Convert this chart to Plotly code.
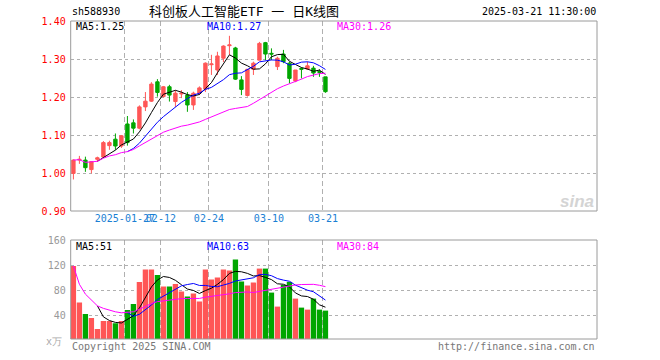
import plotly.graph_objects as go
import pandas as pd

W, H = 660, 360

dates = ["2025-01-14", "2025-01-15", "2025-01-16", "2025-01-17", "2025-01-20", "2025-01-21",
         "2025-01-22", "2025-01-23", "2025-01-24", "2025-01-27", "2025-02-05", "2025-02-06",
         "2025-02-07", "2025-02-10", "2025-02-11", "2025-02-12", "2025-02-13", "2025-02-14",
         "2025-02-17", "2025-02-18", "2025-02-19", "2025-02-20", "2025-02-21", "2025-02-24",
         "2025-02-25", "2025-02-26", "2025-02-27", "2025-02-28", "2025-03-03", "2025-03-04",
         "2025-03-05", "2025-03-06", "2025-03-07", "2025-03-10", "2025-03-11", "2025-03-12",
         "2025-03-13", "2025-03-14", "2025-03-17", "2025-03-18", "2025-03-19", "2025-03-20",
         "2025-03-21"]

opens = [0.999, 1.034, 1.034, 1.009, 1.036, 1.042, 1.072, 1.089, 1.071, 1.129, 1.132, 1.118,
         1.174, 1.189, 1.240, 1.201, 1.227, 1.188, 1.208, 1.205, 1.179, 1.210, 1.221, 1.285,
         1.271, 1.302, 1.335, 1.329, 1.245, 1.204, 1.273, 1.297, 1.343, 1.315, 1.280, 1.313,
         1.289, 1.242, 1.275, 1.274, 1.276, 1.267, 1.253]
highs = [1.036, 1.045, 1.043, 1.031, 1.043, 1.084, 1.085, 1.104, 1.100, 1.150, 1.141, 1.178,
         1.213, 1.239, 1.247, 1.229, 1.232, 1.218, 1.218, 1.213, 1.214, 1.228, 1.291, 1.311,
         1.319, 1.336, 1.361, 1.332, 1.255, 1.273, 1.293, 1.345, 1.345, 1.328, 1.306, 1.324,
         1.293, 1.271, 1.278, 1.293, 1.282, 1.273, 1.253]
lows = [0.983, 1.024, 1.003, 0.999, 1.030, 1.040, 1.061, 1.061, 1.066, 1.072, 1.104, 1.115,
        1.163, 1.187, 1.201, 1.199, 1.188, 1.174, 1.197, 1.161, 1.166, 1.205, 1.213, 1.258,
        1.258, 1.292, 1.311, 1.245, 1.205, 1.201, 1.258, 1.297, 1.297, 1.297, 1.271, 1.289,
        1.236, 1.239, 1.249, 1.271, 1.253, 1.253, 1.211]
closes = [1.034, 1.036, 1.014, 1.030, 1.040, 1.080, 1.080, 1.071, 1.098, 1.080, 1.118, 1.174,
          1.189, 1.234, 1.212, 1.227, 1.205, 1.210, 1.210, 1.179, 1.210, 1.224, 1.289, 1.287,
          1.308, 1.334, 1.337, 1.247, 1.220, 1.273, 1.289, 1.341, 1.313, 1.313, 1.302, 1.293,
          1.249, 1.271, 1.273, 1.282, 1.263, 1.265, 1.214]
volumes = [118.9, 60.2, 42.1, 35.7, 18.1, 30.9, 30.9, 27.2, 30.9, 48.5, 58.1, 93.3, 113.0,
           113.0, 104.5, 85.8, 85.8, 90.1, 77.8, 69.8, 74.6, 61.8, 113.0, 97.0, 100.2, 113.0,
           111.4, 129.0, 93.8, 87.4, 92.2, 114.6, 114.6, 76.2, 53.8, 88.5, 93.3, 66.6, 52.2,
           49.0, 66.6, 49.0, 47.4]

tick_days = ["2025-01-27", "2025-02-12", "2025-02-24", "2025-03-10", "2025-03-21"]
tick_labels = ["2025-01-27", "02-12", "02-24", "03-10", "03-21"]
price_ticks = [0.90, 1.00, 1.10, 1.20, 1.30, 1.40]
vol_ticks = [40, 80, 120, 160]
price_ma_labels = ["MA5:1.25", "MA10:1.27", "MA30:1.26"]
vol_ma_labels = ["MA5:51", "MA10:63", "MA30:84"]

RED = "#ff5656"
GREEN = "#00a600"
MA_COLORS = ["#000000", "#0000ff", "#ff00ff"]
MONO = "DejaVu Sans Mono, Liberation Mono, monospace"
CJK = "DejaVu Sans Mono, Noto Sans CJK SC, sans-serif"

x = list(range(len(dates)))
cs = pd.Series(closes)
vs = pd.Series(volumes)


def mas(s):
    return [s.rolling(5).mean(), s.rolling(10).mean(), s.rolling(30, min_periods=1).mean()]


def PX(px):
    return px / W


def PY(py):
    return 1 - py / H


tickpos = [dates.index(d) - 0.42 for d in tick_days]
vol_colors = [RED if c >= o else GREEN for o, c in zip(opens, closes)]

fig = go.Figure()
fig.add_trace(go.Candlestick(
    x=x, open=opens, high=highs, low=lows, close=closes,
    increasing=dict(line=dict(color=RED, width=1), fillcolor=RED),
    decreasing=dict(line=dict(color=GREEN, width=1), fillcolor=GREEN),
    whiskerwidth=0, xaxis="x", yaxis="y", showlegend=False, hoverinfo="skip"))
for m, c in zip(mas(cs), MA_COLORS):
    fig.add_trace(go.Scatter(x=x, y=m, mode="lines", line=dict(color=c, width=1),
                             xaxis="x", yaxis="y", showlegend=False, hoverinfo="skip"))

fig.add_trace(go.Bar(x=x, y=volumes, width=0.89, marker=dict(color=vol_colors, line=dict(width=0)),
                     xaxis="x2", yaxis="y2", showlegend=False, hoverinfo="skip"))
for m, c in zip(mas(vs), MA_COLORS):
    fig.add_trace(go.Scatter(x=x, y=m, mode="lines", line=dict(color=c, width=1),
                             xaxis="x2", yaxis="y2", showlegend=False, hoverinfo="skip"))

xdom = [PX(70.7), PX(597)]
xr = [-0.45, 87.25]
grid = dict(gridcolor="#b0b0b0", gridwidth=1)

fig.update_layout(
    template="none",
    width=W, height=H,
    margin=dict(l=0, r=0, t=0, b=0),
    paper_bgcolor="white", plot_bgcolor="white",
    boxgap=0.2,
    showlegend=False,
    xaxis=dict(domain=xdom, range=xr, anchor="y", tickmode="array", tickvals=tickpos,
               ticktext=tick_labels, tickangle=0, showgrid=True, griddash="5px,3px",
               zeroline=False, showline=False, ticks="",
               tickfont=dict(family=MONO, size=10, color="#1a7fd4"),
               rangeslider=dict(visible=False), automargin=False, **grid),
    xaxis2=dict(domain=xdom, range=xr, anchor="y2", matches="x", tickmode="array",
                tickvals=tickpos, showticklabels=False, showgrid=True, griddash="5px,3px",
                zeroline=False, showline=False, ticks="", automargin=False, **grid),
    yaxis=dict(domain=[PY(211), PY(21)], range=[0.90, 1.40], anchor="x",
               tickmode="array", tickvals=price_ticks, ticktext=[f"{v:.2f}" for v in price_ticks],
               showgrid=True, griddash="dot", zeroline=False, showline=False, ticks="",
               tickfont=dict(family=MONO, size=10, color="#ff0000"), automargin=False,
               ticklabelstandoff=4, **grid),
    yaxis2=dict(domain=[PY(339), PY(240)], range=[2, 160.3], anchor="x2",
                tickmode="array", tickvals=vol_ticks, ticktext=[str(v) for v in vol_ticks],
                showgrid=True, griddash="dot", zeroline=False, showline=False, ticks="",
                tickfont=dict(family=MONO, size=10, color="#999999"), automargin=False,
                ticklabelstandoff=4, **grid),
)

for xr_, yr in [("x", "y"), ("x2", "y2")]:
    fig.add_shape(type="rect", xref=xr_ + " domain", yref=yr + " domain", x0=0, x1=1, y0=0, y1=1,
                  line=dict(color="#9a9a9a", width=1), layer="above")


def ann(text, px, py, color="#000", size=10, xanchor="left", family=MONO):
    fig.add_annotation(text=text, x=PX(px), y=PY(py), xref="paper", yref="paper",
                       showarrow=False, xanchor=xanchor, yanchor="middle",
                       font=dict(family=family, size=size, color=color))


ann("sh588930", 70, 12)
ann("科创板人工智能ETF 一 日K线图", 244, 12, size=13, xanchor="center", family=CJK)
ann("2025-03-21 11:30:00", 598, 12, xanchor="right")

for lab, px, c in zip(price_ma_labels, [74, 205, 335], MA_COLORS):
    ann(lab, px, 27, color=c)
for lab, px, c in zip(vol_ma_labels, [74, 205, 335], MA_COLORS):
    ann(lab, px, 246.5, color=c)

ann("x万", 64, 341, color="#aaaaaa", xanchor="right")
ann("Copyright 2025 SINA.COM", 70, 346, color="#777777")
ann("http://finance.sina.com.cn", 597, 346, color="#777777", xanchor="right")
ann("<i><b>sina</b></i>", 596, 201, color="#d4d4d4", size=17, xanchor="right",
    family="Liberation Sans, Arial, sans-serif")

fig.write_html("out.html", config={"displayModeBar": False, "staticPlot": True},
               post_script="document.body.style.margin='0';document.body.style.overflow='hidden';")
